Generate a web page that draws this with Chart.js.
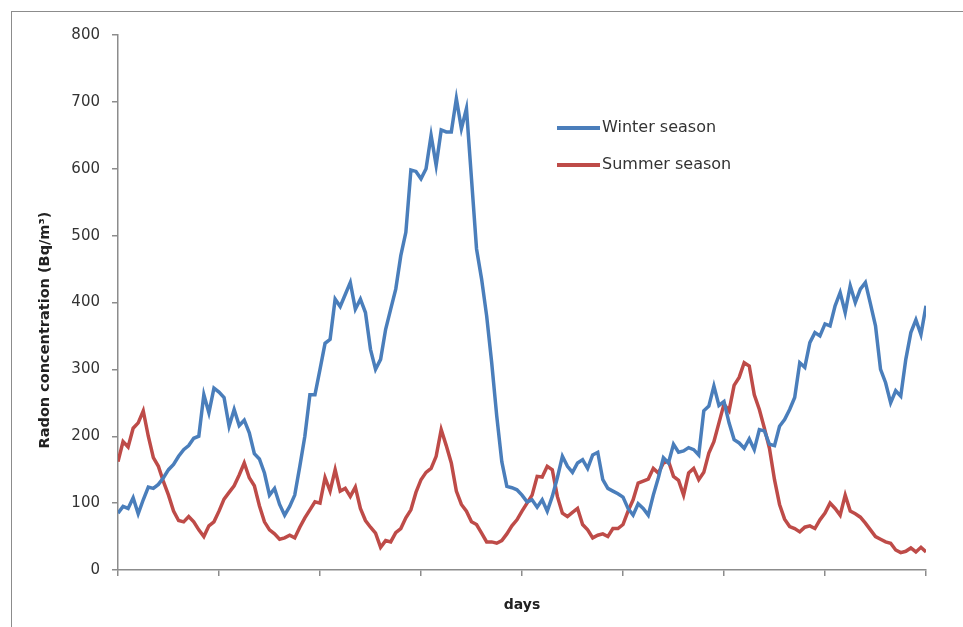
<!DOCTYPE html>
<html>
<head>
<meta charset="utf-8">
<script src="https://cdn.jsdelivr.net/npm/chart.js@4/dist/chart.umd.min.js"></script>
<style>
  html, body { margin: 0; padding: 0; background: #fff; }
  #wrap { position: relative; width: 963px; height: 627px; overflow: hidden; }
  #frame { position: absolute; left: 11px; top: 11px; width: 1000px; height: 700px;
           border-left: 1.5px solid #8c8c8c; border-top: 1.5px solid #8c8c8c; pointer-events: none; }
</style>
</head>
<body>
<div id="wrap">
  <canvas id="radonChart" width="963" height="627"></canvas>
  <div id="frame"></div>
</div>
<script>
// ================= data =================
// one value per sample along the x axis (161 samples, 8 tick intervals, no labels)
const winter = [
  85, 95, 92, 108, 84, 105, 124, 122, 128, 138,
  150, 158, 170, 180, 186, 197, 200, 262, 235, 272,
  266, 258, 215, 240, 216, 224, 205, 174, 166, 145,
  112, 122, 98, 82, 95, 112, 155, 200, 262, 262,
  300, 339, 345, 405, 394, 412, 430, 390, 405, 385,
  330, 300, 315, 360, 390, 420, 470, 505, 598, 596,
  585, 600, 650, 605, 658, 655, 655, 705, 660, 690,
  585, 480, 435, 380, 310, 230, 162, 125, 123, 120,
  112, 102, 105, 94, 105, 88, 110, 138, 170, 155,
  146, 160, 165, 152, 172, 176, 135, 122, 118, 114,
  109, 92, 82, 99, 92, 82, 112, 138, 168, 160,
  188, 176, 178, 183, 180, 172, 238, 245, 275, 246,
  252, 220, 195, 190, 182, 196, 180, 210, 208, 188,
  186, 215, 225, 240, 258, 310, 303, 340, 355, 350,
  368, 365, 395, 415, 385, 425, 400, 420, 430, 398,
  365, 300, 280, 250, 268, 260, 315, 355, 374, 352,
  395
];
const summer = [
  162, 192, 184, 212, 220, 238, 200, 168, 155, 132,
  112, 88, 74, 72, 80, 72, 60, 50, 66, 72,
  88, 106, 116, 126, 142, 160, 138, 126, 96, 72,
  60, 54, 46, 48, 52, 48, 64, 78, 90, 102,
  100, 138, 118, 150, 118, 122, 110, 124, 92, 74,
  64, 55, 34, 44, 42, 56, 62, 78, 90, 116,
  135, 146, 152, 170, 210, 186, 160, 118, 98, 88,
  72, 68, 55, 42, 42, 40, 44, 54, 66, 75,
  88, 100, 112, 140, 139, 155, 150, 110, 85, 80,
  86, 92, 68, 60, 48, 52, 54, 50, 62, 62,
  68, 88, 105, 130, 133, 136, 152, 145, 160, 163,
  140, 134, 112, 145, 152, 135, 146, 175, 192, 220,
  248, 238, 276, 288, 310, 305, 262, 240, 212, 182,
  135, 98, 76, 65, 62, 57, 64, 66, 62, 75,
  85, 100, 92, 82, 112, 88, 84, 79, 70, 60,
  50, 46, 42, 40, 30, 26, 28, 33, 27, 34,
  27
];
const seriesNames = ['Winter season', 'Summer season'];
const yTicks = [0, 100, 200, 300, 400, 500, 600, 700, 800];
const yTitle = 'Radon concentration (Bq/m³)';

const BLUE = '#4a7ebb';
const RED = '#be4b48';
const AXIS = '#8c8c8c';
const FONT = '"DejaVu Sans", Verdana, sans-serif';

// legend drawn inside the plot, like the original
const insideLegend = {
  id: 'insideLegend',
  afterDraw(chart) {
    const ctx = chart.ctx;
    const rows = [128, 165];
    ctx.save();
    chart.data.datasets.forEach((ds, i) => {
      const y = rows[i];
      ctx.strokeStyle = ds.borderColor;
      ctx.lineWidth = 4;
      ctx.beginPath();
      ctx.moveTo(557, y);
      ctx.lineTo(600, y);
      ctx.stroke();
      ctx.fillStyle = '#333';
      ctx.font = '16px ' + FONT;
      ctx.textBaseline = 'middle';
      ctx.fillText(ds.label, 602, y);
    });
    ctx.restore();
  }
};

// y title sits a bit below the axis middle in the original, so draw it by hand
const sideTitle = {
  id: 'sideTitle',
  afterDraw(chart) {
    const ctx = chart.ctx;
    ctx.save();
    ctx.translate(45, 330);
    ctx.rotate(-Math.PI / 2);
    ctx.fillStyle = '#222';
    ctx.font = 'bold 14.5px ' + FONT;
    ctx.textAlign = 'center';
    ctx.textBaseline = 'middle';
    ctx.fillText(yTitle, 0, 0);
    ctx.restore();
  }
};

const toPoints = arr => arr.map((v, i) => ({x: i, y: v}));

const ctx = document.getElementById('radonChart').getContext('2d');
const radonChart = new Chart(ctx, {
  type: 'line',
  data: {
    datasets: [
      {label: seriesNames[0], data: toPoints(winter), borderColor: BLUE, borderWidth: 3.5,
       pointRadius: 0, tension: 0, fill: false},
      {label: seriesNames[1], data: toPoints(summer), borderColor: RED, borderWidth: 3.5,
       pointRadius: 0, tension: 0, fill: false}
    ]
  },
  options: {
    responsive: false,
    animation: false,
    layout: {padding: {left: 0, right: 37, top: 35, bottom: 0}},
    plugins: {legend: {display: false}, tooltip: {enabled: false}},
    scales: {
      x: {
        type: 'linear',
        min: 0,
        max: winter.length - 1,
        ticks: {stepSize: 20, callback: () => '', padding: 0},
        grid: {drawOnChartArea: false, drawTicks: true, tickLength: 6, color: AXIS, lineWidth: 1.5},
        border: {display: true, color: AXIS, width: 1.5},
        title: {display: true, text: 'days', color: '#222',
                font: {family: FONT, size: 14, weight: 'bold'},
                padding: {top: 0, bottom: 13}},
        afterFit(scale) { scale.height = 57; }
      },
      y: {
        min: 0,
        max: 800,
        afterBuildTicks(scale) { scale.ticks = yTicks.map(v => ({value: v})); },
        ticks: {color: '#333', padding: 12, font: {family: FONT, size: 15}},
        grid: {drawOnChartArea: false, drawTicks: true, tickLength: 6, color: AXIS, lineWidth: 1.5},
        border: {display: true, color: AXIS, width: 1.5},
        title: {display: false},
        afterFit(scale) { scale.width = 118; }
      }
    }
  },
  plugins: [insideLegend, sideTitle]
});
</script>
</body>
</html>
